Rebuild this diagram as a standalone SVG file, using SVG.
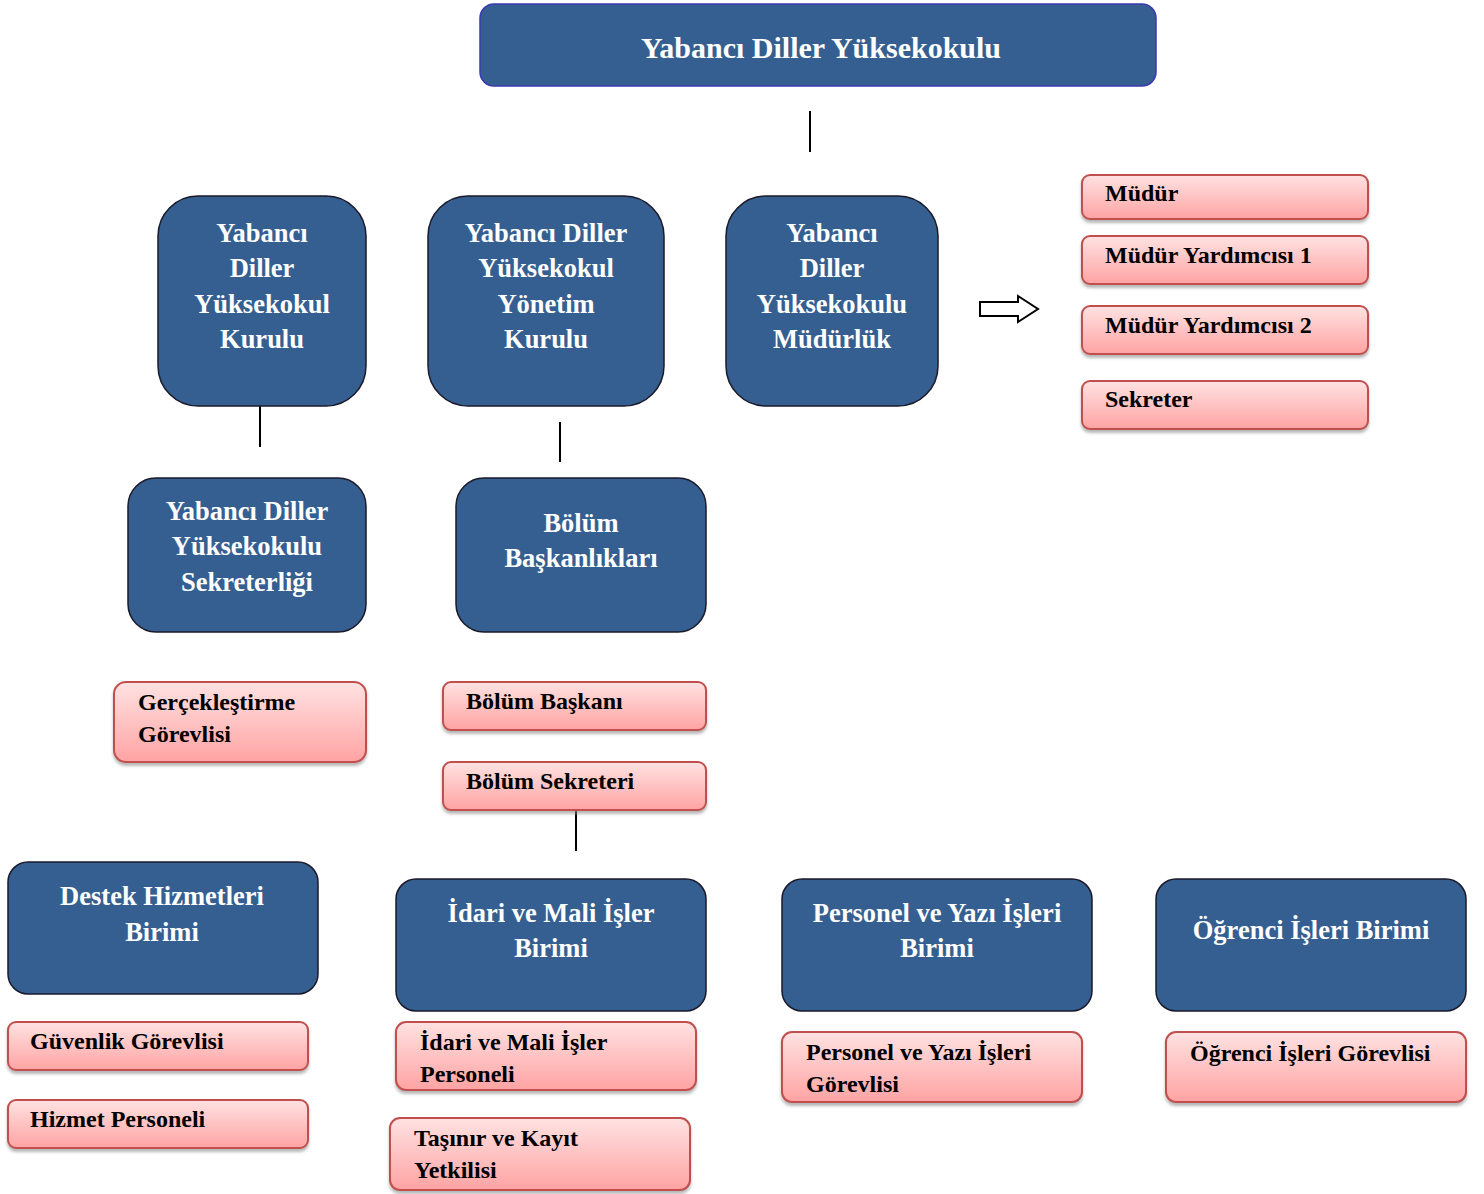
<svg xmlns="http://www.w3.org/2000/svg" width="1484" height="1194" viewBox="0 0 1484 1194">
<defs>
<linearGradient id="pg" x1="0" y1="0" x2="0" y2="1">
<stop offset="0" stop-color="#ffe2e2"/>
<stop offset="1" stop-color="#ffa3a3"/>
</linearGradient>
<filter id="sh" x="-5%" y="-10%" width="110%" height="130%">
<feDropShadow dx="0" dy="3" stdDeviation="1.5" flood-color="#888" flood-opacity="0.6"/>
</filter>
</defs>
<style>
.b{fill:#365f91;stroke:#1a1a2a;stroke-width:1.5}
.p{fill:url(#pg);stroke:#c0504d;stroke-width:2;filter:url(#sh)}
.bt{font-family:"Liberation Serif",serif;font-weight:bold;font-size:26.5px;fill:#fff;text-anchor:middle}
.pt{font-family:"Liberation Serif",serif;font-weight:bold;font-size:24px;fill:#000}
.ln{stroke:#000;stroke-width:2;fill:none}
</style>
<rect width="1484" height="1194" fill="#fff"/>
<g id="connectors">
<line class="ln" x1="810" y1="111" x2="810" y2="152"/>
<line class="ln" x1="260" y1="406" x2="260" y2="447"/>
<line class="ln" x1="560" y1="422" x2="560" y2="462"/>
<line class="ln" x1="576" y1="810" x2="576" y2="851"/>
<path d="M980,302 L1018,302 L1018,296 L1038,309 L1018,322 L1018,316 L980,316 Z" fill="#fff" stroke="#000" stroke-width="2"/>
</g>
<g id="n-top"><rect class="b" x="480" y="4" width="676" height="82" rx="14" style="stroke:#3a3ab0"/><text class="bt" x="821" y="58" style="font-size:30px">Yabancı Diller Yüksekokulu</text></g>
<g id="n-kurul"><rect class="b" x="158" y="196" width="208" height="210" rx="40"/><text class="bt" x="262"><tspan x="262" y="242">Yabancı</tspan><tspan x="262" y="277">Diller</tspan><tspan x="262" y="313">Yüksekokul</tspan><tspan x="262" y="348">Kurulu</tspan></text></g>
<g id="n-yonetim"><rect class="b" x="428" y="196" width="236" height="210" rx="40"/><text class="bt" x="546"><tspan x="546" y="242">Yabancı Diller</tspan><tspan x="546" y="277">Yüksekokul</tspan><tspan x="546" y="313">Yönetim</tspan><tspan x="546" y="348">Kurulu</tspan></text></g>
<g id="n-mudurluk"><rect class="b" x="726" y="196" width="212" height="210" rx="40"/><text class="bt" x="832"><tspan x="832" y="242">Yabancı</tspan><tspan x="832" y="277">Diller</tspan><tspan x="832" y="313">Yüksekokulu</tspan><tspan x="832" y="348">Müdürlük</tspan></text></g>
<g id="n-mudur"><rect class="p" x="1082" y="175" width="286" height="44" rx="8"/><text class="pt" x="1105" y="201">Müdür</text></g>
<g id="n-my1"><rect class="p" x="1082" y="236" width="286" height="48" rx="8"/><text class="pt" x="1105" y="263">Müdür Yardımcısı 1</text></g>
<g id="n-my2"><rect class="p" x="1082" y="306" width="286" height="48" rx="8"/><text class="pt" x="1105" y="333">Müdür Yardımcısı 2</text></g>
<g id="n-sekreter"><rect class="p" x="1082" y="381" width="286" height="48" rx="8"/><text class="pt" x="1105" y="407">Sekreter</text></g>
<g id="n-sekreterlik"><rect class="b" x="128" y="478" width="238" height="154" rx="28"/><text class="bt" x="247"><tspan x="247" y="520">Yabancı Diller</tspan><tspan x="247" y="555">Yüksekokulu</tspan><tspan x="247" y="591">Sekreterliği</tspan></text></g>
<g id="n-bolum"><rect class="b" x="456" y="478" width="250" height="154" rx="28"/><text class="bt" x="581"><tspan x="581" y="532">Bölüm</tspan><tspan x="581" y="567">Başkanlıkları</tspan></text></g>
<g id="n-gerc"><rect class="p" x="114" y="682" width="252" height="80" rx="12"/><text class="pt"><tspan x="138" y="710">Gerçekleştirme</tspan><tspan x="138" y="742">Görevlisi</tspan></text></g>
<g id="n-bb"><rect class="p" x="443" y="682" width="263" height="48" rx="8"/><text class="pt" x="466" y="709">Bölüm Başkanı</text></g>
<g id="n-bs"><rect class="p" x="443" y="762" width="263" height="48" rx="8"/><text class="pt" x="466" y="789">Bölüm Sekreteri</text></g>
<g id="n-destek"><rect class="b" x="8" y="862" width="310" height="132" rx="20"/><text class="bt" x="162"><tspan x="162" y="905">Destek Hizmetleri</tspan><tspan x="162" y="941">Birimi</tspan></text></g>
<g id="n-idari"><rect class="b" x="396" y="879" width="310" height="132" rx="20"/><text class="bt" x="551"><tspan x="551" y="922">İdari ve Mali İşler</tspan><tspan x="551" y="957">Birimi</tspan></text></g>
<g id="n-personel"><rect class="b" x="782" y="879" width="310" height="132" rx="20"/><text class="bt" x="937"><tspan x="937" y="922">Personel ve Yazı İşleri</tspan><tspan x="937" y="957">Birimi</tspan></text></g>
<g id="n-ogrenci"><rect class="b" x="1156" y="879" width="310" height="132" rx="20"/><text class="bt" x="1311" y="939">Öğrenci İşleri Birimi</text></g>
<g id="n-guvenlik"><rect class="p" x="8" y="1022" width="300" height="48" rx="8"/><text class="pt" x="30" y="1049">Güvenlik Görevlisi</text></g>
<g id="n-hizmet"><rect class="p" x="8" y="1100" width="300" height="48" rx="8"/><text class="pt" x="30" y="1127">Hizmet Personeli</text></g>
<g id="n-idarip"><rect class="p" x="396" y="1022" width="300" height="68" rx="10"/><text class="pt"><tspan x="420" y="1050">İdari ve Mali İşler</tspan><tspan x="420" y="1082">Personeli</tspan></text></g>
<g id="n-tasinir"><rect class="p" x="390" y="1118" width="300" height="72" rx="10"/><text class="pt"><tspan x="414" y="1146">Taşınır ve Kayıt</tspan><tspan x="414" y="1178">Yetkilisi</tspan></text></g>
<g id="n-pyg"><rect class="p" x="782" y="1032" width="300" height="70" rx="10"/><text class="pt"><tspan x="806" y="1060">Personel ve Yazı İşleri</tspan><tspan x="806" y="1092">Görevlisi</tspan></text></g>
<g id="n-ogg"><rect class="p" x="1166" y="1032" width="300" height="70" rx="10"/><text class="pt" x="1190" y="1061">Öğrenci İşleri Görevlisi</text></g>
</svg>
